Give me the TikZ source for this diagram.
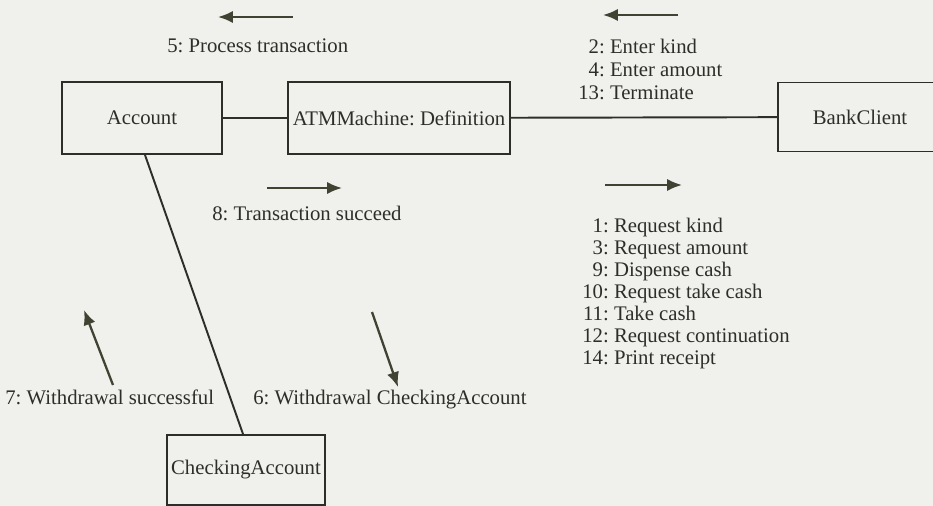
\documentclass[tikz,border=0pt]{standalone}
\usepackage{fontspec}
\setmainfont{Liberation Serif}
\usetikzlibrary{arrows.meta}
\frenchspacing

\definecolor{ink}{RGB}{45,45,42}
\definecolor{paper}{RGB}{240,240,237}
\definecolor{tipcol}{RGB}{65,67,50}

\tikzset{
  obj/.style={draw=ink,line width=1.1pt,minimum height=1.44cm,inner sep=1pt,text=ink},
  link/.style={draw=ink,line width=1.1pt},
  msg/.style={->,draw=tipcol,line width=1.3pt},
  lbl/.style={text=ink,inner sep=0pt,anchor=base west},
}

\begin{document}
\begin{tikzpicture}[x=0.02cm,y=-0.02cm,>={Latex[length=8.5pt,width=7pt]},
    font=\fontsize{11.8}{13}\selectfont]
  \clip (0,0) rectangle (933,506);
  \fill[paper] (0,0) rectangle (933,506);
  % objects
  \node[obj,minimum width=3.2cm] (acc) at (142,118) {Account};
  \node[obj,minimum width=4.44cm] (atm) at (399,118) {ATMMachine: Definition};
  \node[obj,minimum width=3.28cm,minimum height=1.38cm] (bank) at (860,117) {BankClient};
  \node[obj,minimum width=3.16cm,minimum height=1.4cm] (chk) at (246,470) {CheckingAccount};
  % links
  \draw[link] (acc) -- (atm);
  \draw[link] (atm) -- (bank);
  \draw[link] ([xshift=0.06cm]acc.south) -- ([xshift=-0.06cm]chk.north);
  % messages Account/ATM
  \node[lbl] (m5) at (167,53) {5: Process transaction};
  \draw[msg] (293,17) -- (218,17);
  \node[lbl] (m8) at (212,221) {8: Transaction succeed};
  \draw[msg] (267,188) -- (342,188);
  % messages ATM/BankClient
  \node[lbl] (m2) at (578,54) {\begin{tabular}[t]{@{}r@{:~}l@{}}
    2&Enter kind\\ 4&Enter amount\\ 13&Terminate\end{tabular}};
  \draw[msg] (678,15) -- (603,15);
  \node[lbl,font=\fontsize{11.8}{12.5}\selectfont] (m1) at (582,233) {\begin{tabular}[t]{@{}r@{:~}l@{}}
    1&Request kind\\ 3&Request amount\\ 9&Dispense cash\\ 10&Request take cash\\
    11&Take cash\\ 12&Request continuation\\ 14&Print receipt\end{tabular}};
  \draw[msg] (605,185) -- (682,185);
  % messages Account/CheckingAccount
  \node[lbl] (m7) at (5,404) {7: Withdrawal successful};
  \draw[msg] (113,385) -- (84,310);
  \node[lbl] (m6) at (253,404) {6: Withdrawal CheckingAccount};
  \draw[msg] (372,312) -- (398,387);
\end{tikzpicture}
\end{document}
